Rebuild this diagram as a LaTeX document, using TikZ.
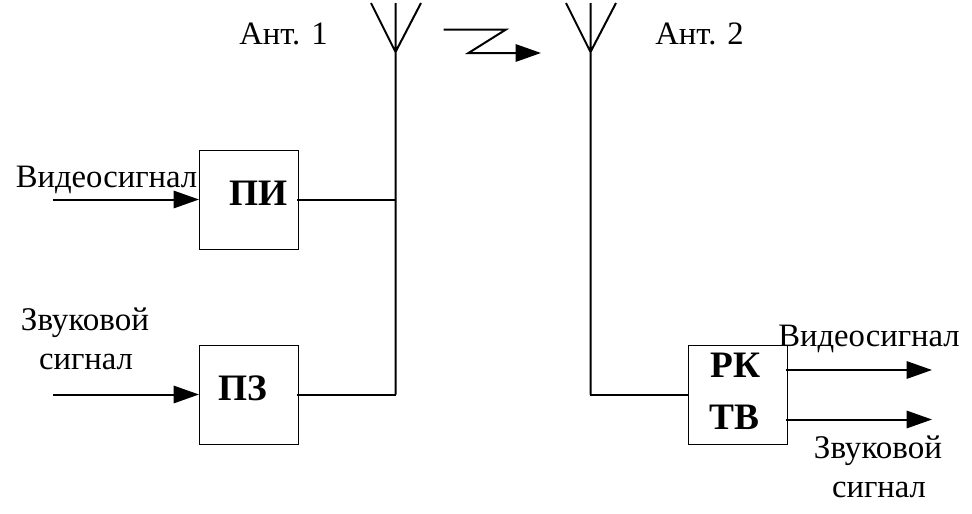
\documentclass[tikz,border=0pt]{standalone}
\usepackage{fontspec}
\setmainfont{Liberation Serif}
\usetikzlibrary{arrows.meta,calc}
\tikzset{
 px/.style={x=0.75pt,y=-0.75pt},
 wire/.style={draw=black,line width=1.5pt},
 arr/.style={wire,-{Triangle[length=19pt,width=13pt]}},
 blockbox/.style={draw=black,line width=0.75pt,minimum width=74.25pt,minimum height=74.25pt,inner sep=0pt,fill=white},
 lbl/.style={font=\fontsize{24.5pt}{24.5pt}\selectfont,inner sep=0pt,anchor=base,text=black},
 lblw/.style={font=\fontsize{24.8pt}{24.8pt}\selectfont,inner sep=0pt,anchor=base,text=black},
 bold/.style={font=\fontsize{28pt}{28pt}\selectfont\bfseries,inner sep=0pt,anchor=base,text=black},
}
\begin{document}
\begin{tikzpicture}[px]
\useasboundingbox (0,0) rectangle (972,514);
\fill[white] (0,0) rectangle (972,514);
\node[blockbox] (pi) at (249,200) {};
\node[blockbox] (pz) at (249,395) {};
\node[blockbox] (rk) at (737.5,395) {};
\coordinate (a1) at (395.5,52);
\coordinate (a1t) at (395.5,3);
\coordinate (a1l) at (371,3);
\coordinate (a1r) at (421,3);
\coordinate (a2) at (590.5,52);
\coordinate (a2t) at (590.5,3);
\coordinate (a2l) at (566,3);
\coordinate (a2r) at (616,3);
\coordinate (j1) at (395.5,199.5);
\coordinate (j2) at (395.5,394.5);
\coordinate (j3) at (590.5,394.5);
\coordinate (v1s) at (53,199.5);
\coordinate (z1s) at (53,394.5);
\coordinate (v2e) at (932,370);
\coordinate (z2e) at (932,419.5);
\coordinate (pio) at ($(pi.east |- j1)+(-1.5pt,0)$);
\coordinate (pzo) at ($(pz.east |- j2)+(-1.5pt,0)$);
\coordinate (rkv) at ($(rk.east |- v2e)+(-1.5pt,0)$);
\coordinate (rkz) at ($(rk.east |- z2e)+(-1.5pt,0)$);
\draw[wire] (a1l) -- (a1) -- (a1r) (a1t) -- (j2);
\draw[wire] (a2l) -- (a2) -- (a2r) (a2t) -- (j3);
\draw[arr] (v1s) -- (v1s -| pi.west);
\draw[arr] (z1s) -- (z1s -| pz.west);
\draw[wire] (pio) -- ([xshift=0.6pt]j1);
\draw[wire] (pzo) -- ([xshift=0.6pt]j2);
\draw[wire] ([xshift=-0.6pt]j3) -- (rk.west |- j3);
\draw[arr] (rkv) -- (v2e);
\draw[arr] (rkz) -- (z2e);
\coordinate (z1) at (443.5,29.5);
\coordinate (z2) at (506,29.5);
\coordinate (z3) at (468.5,53);
\coordinate (z4) at (541,53);
\draw[arr] (z1) -- (z2) -- (z3) -- (z4);
\node[lbl] (t1) at (283.5,44) {Ант. 1};
\node[lbl] (t2) at (699.5,44) {Ант. 2};
\node[lbl] (t3) at (106.5,187) {Видеосигнал};
\node[lblw] (t4) at (85,330) {Звуковой};
\node[lbl] (t5) at (86,369) {сигнал};
\node[lbl] (t6) at (869,346) {Видеосигнал};
\node[lblw] (t7) at (878,458) {Звуковой};
\node[lbl] (t8) at (879,497) {сигнал};
\node[bold] (b1) at (258.5,205) {ПИ};
\node[bold] (b2) at (242.5,400) {ПЗ};
\node[bold] (b3) at (735.5,377) {РК};
\node[bold] (b4) at (734,429) {ТВ};
\end{tikzpicture}
\end{document}
